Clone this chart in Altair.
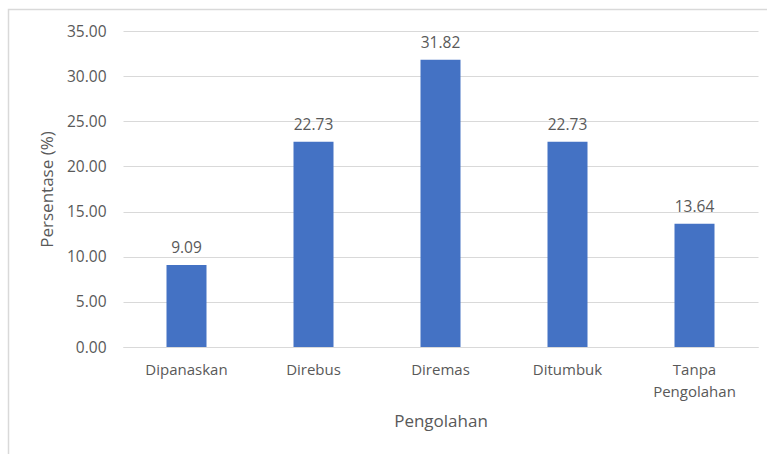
import altair as alt
import pandas as pd

# Persentase per cara pengolahan
categories = ["Dipanaskan", "Direbus", "Diremas", "Ditumbuk", "Tanpa Pengolahan"]
values = [9.09, 22.73, 31.82, 22.73, 13.64]
y_ticks = [0, 5, 10, 15, 20, 25, 30, 35]

df = pd.DataFrame({"Pengolahan": categories, "Persentase": values})

FONT = "Open Sans"
TEXT = "#595959"
GRID = "#D9D9D9"
BAR = "#4472C4"

W, H = 635, 316

x_enc = alt.X(
    "Pengolahan:N",
    sort=categories,
    scale=alt.Scale(paddingInner=0.685, paddingOuter=0.3425),
    axis=alt.Axis(
        title="Pengolahan",
        labelAngle=0,
        labelExpr="split(datum.label, ' ')",
        labelFontSize=15,
        labelLineHeight=22,
        labelPadding=15,
        ticks=False,
        domain=True,
        domainColor=GRID,
        titlePadding=14,
    ),
)
y_enc = alt.Y(
    "Persentase:Q",
    scale=alt.Scale(domain=[0, 35], nice=False),
    axis=alt.Axis(
        title="Persentase (%)",
        values=y_ticks,
        format=".2f",
        labelFontSize=15.5,
        ticks=False,
        domain=False,
        grid=True,
        gridColor=GRID,
        labelPadding=17,
        titlePadding=10,
    ),
)

# outer chart-area frame
frame = alt.Chart(df.head(1)).mark_rect(
    fill=None, stroke=GRID, strokeWidth=1.5
).encode(
    x=alt.value(-114.5), x2=alt.value(W + 20),
    y=alt.value(-21.5), y2=alt.value(H + 140),
)

bars = alt.Chart(df).mark_bar(color=BAR).encode(x=x_enc, y=y_enc)

labels = alt.Chart(df).mark_text(
    baseline="bottom", dy=-9, font=FONT, fontSize=15.5, color=TEXT
).encode(
    x=alt.X("Pengolahan:N", sort=categories),
    y="Persentase:Q",
    text=alt.Text("Persentase:Q", format=".2f"),
)

chart = alt.layer(frame, bars, labels).properties(
    width=W,
    height=H,
    background="white",
    autosize=alt.AutoSizeParams(type="none"),
    padding={"left": 123, "top": 31, "right": 9, "bottom": 107},
).configure_view(stroke=None).configure_axis(
    labelFont=FONT,
    titleFont=FONT,
    labelColor=TEXT,
    titleColor=TEXT,
    titleFontSize=17,
    titleFontWeight="normal",
)

chart.save("out.html", embed_options={"renderer": "svg", "actions": False})
